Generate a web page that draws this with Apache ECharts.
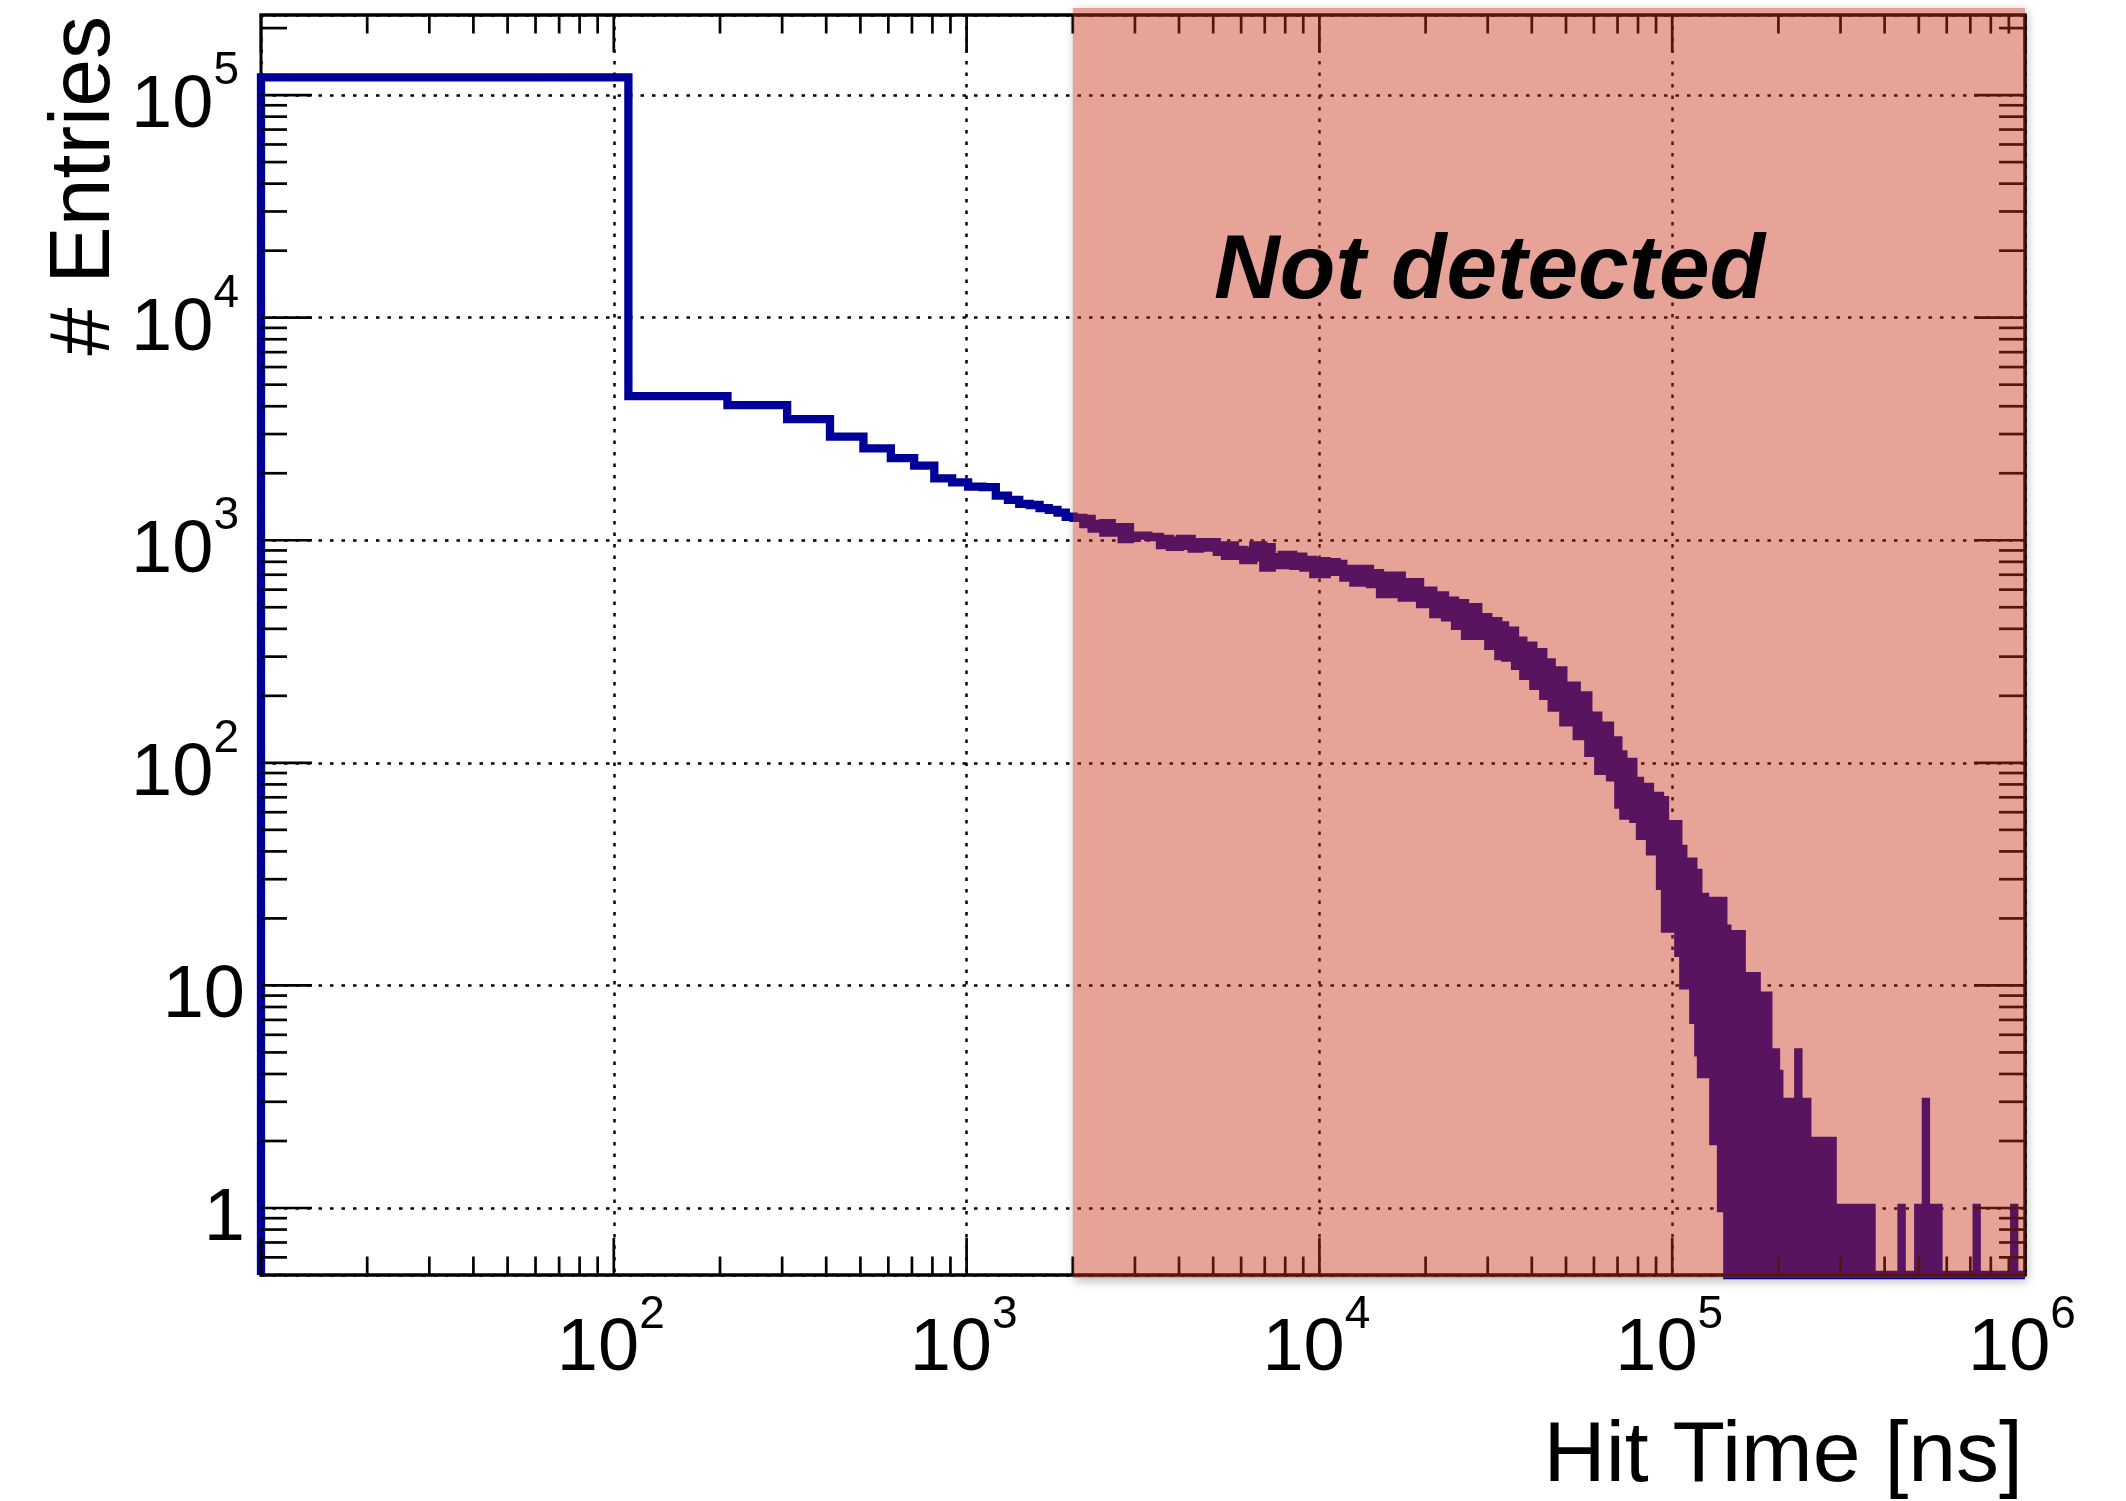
<!DOCTYPE html>
<html>
<head>
<meta charset="utf-8">
<title>Hit Time</title>
<script src="https://cdn.jsdelivr.net/npm/echarts@6/dist/echarts.min.js"></script>
<style>
html, body { margin: 0; padding: 0; background: #fff; }
#chart { width: 2126px; height: 1501px; }
</style>
</head>
<body>
<div id="chart"></div>
<script>
// Hit-time histogram (100 ns bins) on log-log axes.
// Up to ~2 us every bin is its own step. Further out the bins are narrower
// than a pixel, so each stretch of time keeps the highest and the lowest bin
// count seen in it; a count of 0 sits on the floor of the frame.

// individual bins: lower edges + last upper edge, and their counts
const coarseEdges = [10, 110, 210, 310, 410, 510, 610, 710, 810, 910, 1010,
  1110, 1210, 1310, 1410, 1510, 1610, 1710, 1810, 1910, 2010];
const coarseCounts = [120000, 4444, 4049, 3503, 2920, 2587, 2341, 2163, 1897,
  1820, 1741, 1732, 1586, 1519, 1457, 1440, 1394, 1370, 1330, 1275];

// dense part: stretch boundaries [ns] (starting at the last coarse edge)
const bandEdges = [
  2010, 2142, 2262, 2441, 2578, 2752, 2905, 3035, 3273, 3533, 3771, 4026,
  4345, 4587, 5117, 5400, 5765, 6085, 6495, 6934, 7325, 7820, 8433, 9003,
  9610, 10489, 11197, 11690, 12480, 13912, 14852,
  17117, 19290, 21030, 22700, 24235, 25865, 28206, 30110, 32150, 33590,
  35850, 37840, 40400, 43110, 45540, 49140, 53630, 57840, 61730, 66630,
  70360, 72700, 77590, 81040, 86500, 92340, 95410, 97480, 104060, 107520,
  114760, 118580,
  120660, 123880, 130780, 137530, 139600, 143300, 147470, 152960, 157400,
  164330, 173580, 177380, 187250, 196890, 201190, 227700, 227900, 241500,
  285000, 317700, 324800, 367300, 446700, 447100, 498200, 523700, 523900,
  568500, 729400, 729600, 932000, 932200, 1000000];
// highest count in each stretch
const bandHigh = [
  1261, 1248, 1185, 1194, 1145, 1145, 1025, 1049, 1034, 1015, 997, 1015,
  963, 980, 947, 947, 906, 899, 947, 931, 839, 860, 845, 817, 805, 797,
  783, 744, 744, 711,
  694, 648, 594, 565, 536, 522, 501, 451, 433, 414, 393, 354, 336, 314,
  283, 260, 222, 201, 163, 147,
  126, 109, 101, 83, 78, 71, 68, 51, 53, 41, 36, 32,
  25, 25, 22, 24, 24, 18, 15, 17, 17, 9, 11, 7, 9, 5, 4, 3, 5, 3, 2, 1,
  1, 1, 0, 1, 0, 1, 3, 1, 0, 1, 0, 1, 0];
// lowest count in each stretch
const bandLow = [
  1261, 1181, 1129, 1083, 1083, 1011, 1025, 1049, 1034, 950, 934, 944,
  918, 927, 887, 851, 866, 814, 836, 754, 773, 773, 767, 754, 704, 721,
  721, 680, 645, 635,
  573, 553, 516, 466, 450, 413, 372, 372, 335, 302, 297, 273, 246, 222,
  200, 177, 152, 132, 111, 92,
  86, 65, 58, 56, 47, 40, 28, 18, 18, 14, 10, 7,
  5, 4, 4, 2, 1, 1, 0, 0, 1, 0, 0, 0, 0, 0, 0, 0, 0, 0, 0, 0,
  1, 0, 0, 0, 0, 0, 0, 0, 0, 0, 0, 0, 0];

// shaded "not detected" window (time and count extent)
const regionTime = [2000, 1000000];
const regionCount = [0.485, 246000];

// axis ranges
const xRange = [10, 1000000];
const yRange = [0.5, 229000];

const FONT = '"Liberation Sans", Arial, Helvetica, sans-serif';
const LINE_BLUE = '#000099';

// one edge list for the whole histogram
const edges = coarseEdges.concat(bandEdges.slice(1));
const high = coarseCounts.concat(bandHigh);
const low = coarseCounts.concat(bandLow);

// ticks: decades and the 2..9 subdivisions inside the axis ranges
function decadeTicks(lo, hi) {
  const major = [], minor = [];
  for (let e = Math.floor(Math.log10(lo)) - 1; e <= Math.ceil(Math.log10(hi)); e++) {
    const d = Math.pow(10, e);
    if (d >= lo * 0.999 && d <= hi * 1.001) major.push(d);
    for (let k = 2; k <= 9; k++) {
      const v = k * d;
      if (v > lo * 1.0001 && v < hi * 0.9999) minor.push(v);
    }
  }
  return { major, minor };
}
const xTicks = decadeTicks(xRange[0], xRange[1]);
const yTicks = decadeTicks(yRange[0], yRange[1]);

// decade labels: 1, 10, then 10 with a raised exponent
function powLabel(v) {
  const l = Math.log10(v);
  const e = Math.round(l);
  if (Math.abs(l - e) > 1e-6) return '';
  if (e === 0) return '{p|1}';
  if (e === 1) return '{p|10}';
  return '{b|10}{s|' + e + '}';
}
// a tall line box: the mantissa sits on its bottom, the exponent hangs from its top
const labelRich = {
  b: { fontSize: 74, lineHeight: 95, fontFamily: FONT, color: '#000', verticalAlign: 'bottom' },
  s: { fontSize: 46, lineHeight: 46, fontFamily: FONT, color: '#000', verticalAlign: 'top', padding: [0, 6, 0, 0] },
  p: { fontSize: 74, lineHeight: 95, fontFamily: FONT, color: '#000', verticalAlign: 'bottom' }
};
const gridDots = { color: '#000', width: 2.5, type: [3.5, 8] };

function renderHistogram(params, api) {
  const cs = params.coordSys;
  const floorY = cs.y + cs.height;
  const px = t => api.coord([t, 1])[0];
  const py = c => (c > 0 ? api.coord([xRange[0], c])[1] : floorY);
  const pts = [[px(edges[0]), floorY]];
  for (let i = 0; i < high.length; i++) {
    pts.push([px(edges[i]), py(high[i])], [px(edges[i + 1]), py(high[i])]);
  }
  pts.push([px(edges[edges.length - 1]), floorY]);
  for (let i = low.length - 1; i >= 0; i--) {
    pts.push([px(edges[i + 1]), py(low[i])], [px(edges[i]), py(low[i])]);
  }
  return {
    type: 'polygon',
    shape: { points: pts },
    style: { fill: LINE_BLUE, stroke: LINE_BLUE, lineWidth: 8.3, lineJoin: 'miter' }
  };
}

function renderFrameTicks(params, api) {
  const cs = params.coordSys;
  const L = cs.x, R = cs.x + cs.width, T = cs.y, B = cs.y + cs.height;
  const kids = [];
  const seg = (x1, y1, x2, y2, w) => kids.push({
    type: 'line', shape: { x1, y1, x2, y2 },
    style: { stroke: '#000', lineWidth: w, lineCap: 'butt' }
  });
  xTicks.major.forEach(v => {
    const x = api.coord([v, 1])[0];
    seg(x, B, x, B - 37, 2.7); seg(x, T, x, T + 37, 2.7);
  });
  xTicks.minor.forEach(v => {
    const x = api.coord([v, 1])[0];
    seg(x, B, x, B - 18.5, 2.7); seg(x, T, x, T + 18.5, 2.7);
  });
  yTicks.major.forEach(v => {
    const y = api.coord([xRange[0], v])[1];
    seg(L, y, L + 51, y, 2.7); seg(R, y, R - 51, y, 2.7);
  });
  yTicks.minor.forEach(v => {
    const y = api.coord([xRange[0], v])[1];
    seg(L, y, L + 26, y, 2.7); seg(R, y, R - 26, y, 2.7);
  });
  seg(L - 1.5, B, R + 1.5, B, 3);
  seg(L - 1.5, T, R + 1.5, T, 3);
  seg(R, T, R, B, 3);
  return { type: 'group', children: kids };
}

function regionRect(api) {
  const p0 = api.coord([regionTime[0], regionCount[1]]);
  const p1 = api.coord([regionTime[1], regionCount[0]]);
  return { x: p0[0], y: p0[1], width: p1[0] - p0[0], height: p1[1] - p0[1] };
}

const chart = echarts.init(document.getElementById('chart'), null, { renderer: 'canvas' });
chart.setOption({
  animation: false,
  backgroundColor: '#fff',
  grid: {
    left: 261, top: 15, width: 1764, height: 1260,
    show: true, borderColor: '#000', borderWidth: 3, backgroundColor: 'transparent',
    containLabel: false, outerBoundsMode: 'none'
  },
  xAxis: {
    type: 'log', logBase: 10, min: xRange[0], max: xRange[1], position: 'bottom',
    axisLine: { show: false }, axisTick: { show: false }, minorTick: { show: false },
    splitLine: { show: true, lineStyle: gridDots },
    axisLabel: {
      margin: 15, padding: [2, 0, 0, 0], showMinLabel: false, showMaxLabel: true,
      formatter: powLabel, rich: labelRich
    }
  },
  yAxis: {
    type: 'log', logBase: 10, min: yRange[0], max: yRange[1], position: 'left',
    axisLine: { show: false }, axisTick: { show: false }, minorTick: { show: false },
    splitLine: { show: true, lineStyle: gridDots },
    axisLabel: { margin: 16, padding: [2, 0, 0, 0], formatter: powLabel, rich: labelRich }
  },
  series: [
    {
      // soft drop shadow around the shaded window
      type: 'custom', coordinateSystem: 'cartesian2d', z: -1, silent: true, clip: false,
      data: [[regionTime[0], 1]],
      renderItem: (params, api) => ({
        type: 'rect', shape: regionRect(api),
        style: { fill: '#fff', shadowBlur: 10, shadowColor: 'rgba(0,0,0,0.28)', shadowOffsetX: 2, shadowOffsetY: 3 }
      })
    },
    {
      name: 'Hit Time', type: 'custom', coordinateSystem: 'cartesian2d', z: 2, silent: true, clip: false,
      data: [[xRange[0], 1]],
      renderItem: renderHistogram
    },
    {
      type: 'custom', coordinateSystem: 'cartesian2d', z: 4, silent: true, clip: false,
      data: [[xRange[0], 1]],
      renderItem: renderFrameTicks
    },
    {
      // translucent "not detected" window drawn over everything
      type: 'custom', coordinateSystem: 'cartesian2d', z: 6, silent: true, clip: false,
      data: [[regionTime[0], 1]],
      renderItem: (params, api) => ({
        type: 'rect', shape: regionRect(api),
        style: { fill: 'rgba(200,45,18,0.44)' }
      })
    }
  ],
  graphic: [
    {
      type: 'text', x: 85, y: 16, rotation: Math.PI / 2, z: 20,
      style: { text: '# Entries', font: '86px ' + FONT, fill: '#000',
        align: 'right', textAlign: 'right', verticalAlign: 'middle', textVerticalAlign: 'middle' }
    },
    {
      type: 'text', x: 2023, y: 1457, z: 20,
      style: { text: 'Hit Time [ns]', font: '86px ' + FONT, fill: '#000',
        align: 'right', textAlign: 'right', verticalAlign: 'middle', textVerticalAlign: 'middle' }
    },
    {
      type: 'text', x: 1214, y: 273, z: 20,
      style: { text: 'Not detected', font: 'italic bold 91px ' + FONT, fill: '#000',
        align: 'left', textAlign: 'left', verticalAlign: 'middle', textVerticalAlign: 'middle' }
    }
  ]
});
</script>
</body>
</html>
